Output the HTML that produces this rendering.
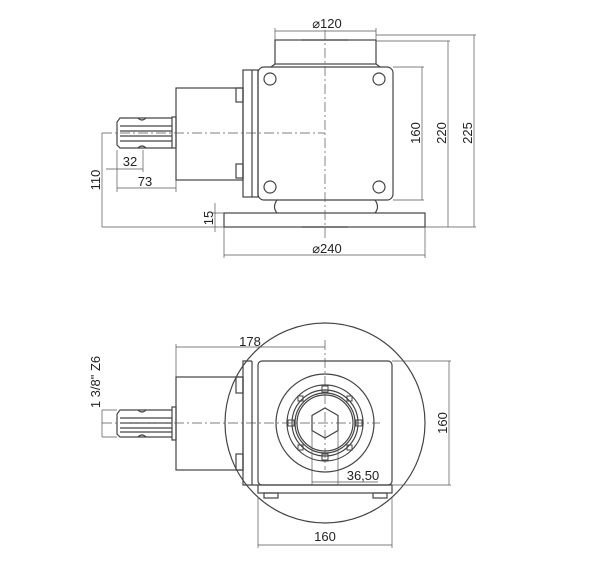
<!DOCTYPE html>
<html><head><style>html,body{margin:0;padding:0;background:#fff}svg{display:block}</style></head>
<body>
<svg width="600" height="577" viewBox="0 0 600 577" xmlns="http://www.w3.org/2000/svg" font-family="Liberation Sans, sans-serif" font-size="13" fill="none" stroke="#333" stroke-width="1">
<!-- TOP VIEW -->
<g stroke="#444" stroke-width="1.2">
<rect x="275" y="40" width="101" height="24"/>
<path d="M275 64 L271 67 M376 64 L380 67"/>
<rect x="258" y="67" width="135" height="133" rx="6"/>
<rect x="243" y="70" width="15" height="127"/>
<line x1="252" y1="70" x2="252" y2="197"/>
<rect x="176" y="88" width="67" height="92"/>
<rect x="236" y="88" width="7" height="14"/>
<rect x="236" y="164" width="7" height="14"/>
<rect x="172" y="117" width="4" height="31"/>
<path d="M117 122 L120 118 L172 118 M117 122 L117 145 L120 148 L172 148"/>
<path d="M120 126 L172 126 M120 131 L172 131 M120 136 L172 136 M120 141 L172 141"/>
<path d="M138 118 q4 4 8 0 M138 148 q4 -4 8 0"/>
<circle cx="270" cy="79" r="6"/><circle cx="379" cy="79" r="6"/>
<circle cx="270" cy="187" r="6"/><circle cx="379" cy="187" r="6"/>
<path d="M277 200 q-5 7 0 13 M375 200 q5 7 0 13"/>
<rect x="224" y="213" width="201" height="14"/>
<line x1="302" y1="40" x2="348" y2="40"/><line x1="302" y1="227" x2="348" y2="227"/>
</g>
<g stroke="#555" stroke-width="0.7">
<line x1="325" y1="30" x2="325" y2="238" stroke-dasharray="10,3,2,3"/>
<line x1="102" y1="133" x2="325" y2="133" stroke-dasharray="10,3,2,3"/>
<!-- dims -->
<path d="M275 40 V28 M376 40 V28 M275 31 H376"/>
<path d="M393 67 H424 M422 67 V200 M393 200 H424"/>
<path d="M376 41 H450 M448 41 V227 M425 227 H450"/>
<path d="M376 35 H476 M474 35 V227 M450 227 H476"/>
<path d="M102 133 V227 M102 227 H224"/>
<path d="M106 169 H143 M143 150 V172 M117 150 V192 M117 188 H176 M176 180 V192"/>
<path d="M215 203 V232 M211 213 H224"/>
<path d="M224 227 V258 M425 227 V258 M224 255 H425"/>
</g>
<g fill="#222" stroke="none">
<text x="327" y="28" text-anchor="middle">⌀120</text>
<text x="327" y="253" text-anchor="middle">⌀240</text>
<text x="130" y="166" text-anchor="middle">32</text>
<text x="145" y="186" text-anchor="middle">73</text>
<text transform="translate(420,133) rotate(-90)" text-anchor="middle">160</text>
<text transform="translate(446,133) rotate(-90)" text-anchor="middle">220</text>
<text transform="translate(472,133) rotate(-90)" text-anchor="middle">225</text>
<text transform="translate(100,180) rotate(-90)" text-anchor="middle">110</text>
<text transform="translate(213,218) rotate(-90)" text-anchor="middle">15</text>
</g>
<!-- BOTTOM VIEW -->
<g stroke="#444" stroke-width="1.2">
<circle cx="325" cy="423" r="100"/>
<rect x="258" y="361" width="134" height="124" rx="4"/>
<path d="M252 361 H243 V485 H258 M252 361 V485"/>
<rect x="176" y="377" width="67" height="93"/>
<rect x="236" y="377" width="7" height="16"/>
<rect x="236" y="454" width="7" height="16"/>
<rect x="172" y="407" width="4" height="33"/>
<path d="M117 414 L120 410 L172 410 M117 414 L117 434 L120 437 L172 437"/>
<path d="M120 418 H172 M120 423 H172 M120 428 H172 M120 432 H172"/>
<path d="M138 410 q4 4 8 0 M138 437 q4 -4 8 0"/>
<rect x="258" y="485" width="134" height="8"/>
<rect x="264" y="493" width="14" height="5"/>
<rect x="373" y="493" width="14" height="5"/>
<circle cx="325" cy="423" r="49"/>
<circle cx="325" cy="423" r="38"/>
<circle cx="325" cy="423" r="33"/>
<circle cx="325" cy="423" r="30"/>
<circle cx="325" cy="423" r="28"/>
<polygon points="325,408 338,415.5 338,430.5 325,438 312,430.5 312,415.5"/>
</g>
<g stroke="#444" stroke-width="1">
<rect x="322" y="386" width="6" height="6"/><rect x="322" y="454" width="6" height="6"/>
<rect x="288" y="420" width="6" height="6"/><rect x="356" y="420" width="6" height="6"/>
<rect x="298" y="396" width="5" height="5"/><rect x="347" y="396" width="5" height="5"/>
<rect x="298" y="445" width="5" height="5"/><rect x="347" y="445" width="5" height="5"/>
</g>
<g stroke="#555" stroke-width="0.7">
<line x1="325" y1="340" x2="325" y2="470" stroke-dasharray="10,3,2,3"/>
<line x1="102" y1="423" x2="380" y2="423" stroke-dasharray="10,3,2,3"/>
<path d="M176 377 V344 M176 347 H325"/>
<path d="M392 361 H451 M449 361 V485 M392 485 H451"/>
<path d="M258 498 V548 M392 498 V548 M258 545 H392"/>
<path d="M312 430 V485 M338 430 V485 M312 482 H378"/>
<path d="M102 410 V437 M102 410 H117 M102 437 H117"/>
</g>
<g fill="#222" stroke="none">
<text x="250" y="346" text-anchor="middle">178</text>
<text x="363" y="480" text-anchor="middle">36,50</text>
<text x="325" y="541" text-anchor="middle">160</text>
<text transform="translate(447,423) rotate(-90)" text-anchor="middle">160</text>
<text transform="translate(100,382) rotate(-90)" text-anchor="middle">1 3/8" Z6</text>
</g>
</svg>
</body></html>
